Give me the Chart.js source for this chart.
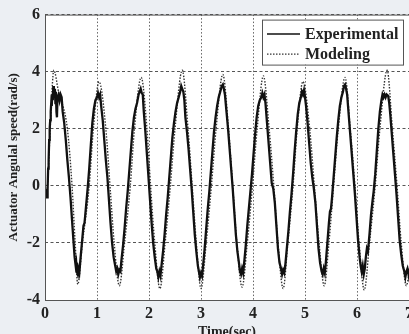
<!DOCTYPE html>
<html>
<head>
<meta charset="utf-8">
<script src="https://cdn.jsdelivr.net/npm/chart.js@4.4.1/dist/chart.umd.min.js"></script>
<style>
  html, body { margin: 0; padding: 0; overflow: hidden; background: #eceff3; }
  #wrap { position: relative; width: 430px; height: 345px; }
</style>
</head>
<body>
<div id="wrap"><canvas id="speedChart"></canvas></div>
<script>
/* =========================================================
   DATA  (time in sec, angular speed in rad/s)
========================================================= */

const xTicks = [0, 1, 2, 3, 4, 5, 6, 7];
const yTicks = [-4, -2, 0, 2, 4, 6];

const seriesLabels = ["Experimental", "Modeling"];

const modeling = [
  [0.04,-0.3],[0.07,0.8],[0.10,2.0],[0.17,4.05],
  [0.26,3.3],[0.43,2.0],[0.52,0],[0.58,-2.0],[0.63,-3.45],
  [0.72,-2.0],[0.85,0],[0.93,2.0],[1.04,3.65],
  [1.17,2.0],[1.25,0],[1.33,-2.0],[1.43,-3.5],
  [1.53,-2.0],[1.64,0],[1.72,2.0],[1.85,3.8],
  [1.96,2.0],[2.03,0],[2.11,-2.0],[2.21,-3.6],
  [2.31,-2.0],[2.41,0],[2.50,2.0],[2.64,4.05],
  [2.75,2.0],[2.83,0],[2.91,-2.0],[3.00,-3.6],
  [3.10,-2.0],[3.20,0],[3.29,2.0],[3.42,3.9],
  [3.53,2.0],[3.61,0],[3.69,-2.0],[3.79,-3.55],
  [3.89,-2.0],[3.99,0],[4.08,2.0],[4.20,3.85],
  [4.31,2.0],[4.40,0],[4.48,-2.0],[4.58,-3.6],
  [4.67,-2.0],[4.77,0],[4.85,2.0],[4.96,3.65],
  [5.09,2.0],[5.18,0],[5.27,-2.0],[5.37,-3.5],
  [5.46,-2.0],[5.55,0],[5.64,2.0],[5.77,3.8],
  [5.87,2.0],[5.96,0],[6.04,-2.0],[6.14,-3.65],
  [6.24,-2.0],[6.35,0],[6.44,2.0],[6.58,4.05],
  [6.68,2.0],[6.77,0],[6.85,-2.0],[6.95,-3.5],[7.00,-3.1]
];

const experimental = [
  [0.03,-0.1],[0.04,-0.4],[0.05,-0.1],[0.06,0.6],[0.07,0.9],[0.08,1.6],[0.09,2.0],
  [0.10,2.3],[0.11,2.6],[0.12,2.9],[0.13,2.8],[0.14,3.2],[0.15,3.0],[0.16,3.5],
  [0.17,3.1],[0.19,3.4],[0.20,2.9],[0.21,3.3],[0.22,2.6],[0.23,2.4],[0.24,3.1],
  [0.26,3.2],[0.28,3.0],[0.30,3.2],[0.32,3.1],[0.34,2.6],[0.37,2.2],[0.40,1.6],
  [0.43,0.9],[0.46,0.3],[0.49,-0.4],[0.52,-1.2],[0.55,-2.0],[0.57,-2.5],[0.59,-2.8],
  [0.60,-2.7],[0.61,-3.0],[0.63,-3.1],[0.64,-2.9],[0.66,-3.05],[0.68,-2.6],[0.70,-2.2],
  [0.72,-1.8],[0.74,-1.4],[0.76,-1.3],[0.77,-1.1],[0.79,-0.7],[0.82,-0.1],[0.85,0.6],
  [0.88,1.4],[0.91,2.2],[0.94,2.7],[0.97,3.0],[1.00,3.1],[1.02,3.25],[1.04,3.1],
  [1.06,3.2],[1.08,2.8],[1.11,2.3],[1.14,1.6],[1.17,0.9],[1.20,0.3],[1.23,-0.5],
  [1.26,-1.3],[1.29,-2.0],[1.32,-2.5],[1.35,-2.8],[1.37,-3.0],[1.39,-2.9],[1.41,-3.1],
  [1.43,-2.95],[1.45,-3.0],[1.47,-2.6],[1.50,-2.1],[1.53,-1.5],[1.56,-0.8],[1.59,-0.2],
  [1.62,0.5],[1.65,1.2],[1.68,1.9],[1.71,2.4],[1.74,2.7],[1.77,2.9],[1.80,3.2],
  [1.82,3.3],[1.84,3.4],[1.86,3.25],[1.88,3.2],[1.90,2.6],[1.93,1.9],[1.96,1.1],
  [1.99,0.3],[2.02,-0.5],[2.05,-1.3],[2.08,-2.0],[2.11,-2.5],[2.14,-2.9],[2.16,-3.0],
  [2.18,-3.2],[2.20,-3.0],[2.22,-3.15],[2.24,-2.8],[2.27,-2.3],[2.30,-1.7],[2.33,-1.0],
  [2.36,-0.4],[2.39,0.3],[2.42,1.0],[2.45,1.7],[2.48,2.2],[2.51,2.6],[2.54,2.9],
  [2.57,3.1],[2.60,3.3],[2.62,3.5],[2.64,3.4],[2.66,3.3],[2.68,3.0],[2.70,2.4],
  [2.73,1.9],[2.76,1.3],[2.79,0.6],[2.82,-0.1],[2.85,-0.9],[2.88,-1.7],[2.91,-2.3],
  [2.94,-2.8],[2.96,-3.0],[2.98,-3.2],[3.00,-3.05],[3.02,-3.15],[3.04,-2.8],[3.07,-2.2],
  [3.10,-1.5],[3.13,-0.8],[3.16,-0.2],[3.19,0.5],[3.22,1.2],[3.25,1.9],[3.28,2.4],
  [3.31,2.8],[3.34,3.1],[3.37,3.3],[3.40,3.5],[3.42,3.55],[3.44,3.4],[3.46,3.2],
  [3.49,2.6],[3.52,2.0],[3.55,1.3],[3.58,0.6],[3.61,-0.1],[3.64,-0.9],[3.67,-1.7],
  [3.70,-2.3],[3.73,-2.7],[3.75,-3.0],[3.77,-3.1],[3.79,-2.9],[3.81,-3.05],[3.83,-2.7],
  [3.86,-2.1],[3.89,-1.4],[3.92,-0.8],[3.95,-0.2],[3.98,0.4],[4.01,1.1],[4.04,1.8],
  [4.07,2.4],[4.10,2.8],[4.13,3.0],[4.16,3.1],[4.18,3.25],[4.20,3.1],[4.22,3.2],
  [4.24,2.9],[4.27,2.2],[4.30,1.5],[4.33,0.8],[4.36,0.1],[4.39,-0.1],[4.42,-0.6],
  [4.45,-1.4],[4.48,-2.2],[4.51,-2.7],[4.54,-2.9],[4.56,-3.1],[4.58,-2.95],[4.60,-3.05],
  [4.62,-2.8],[4.65,-2.2],[4.68,-1.6],[4.71,-0.9],[4.74,-0.3],[4.77,0.4],[4.80,1.2],
  [4.83,1.9],[4.86,2.5],[4.89,2.9],[4.92,3.1],[4.94,3.3],[4.96,3.2],[4.98,3.35],
  [5.00,3.1],[5.02,2.8],[5.05,2.2],[5.08,1.5],[5.11,0.8],[5.14,0.3],[5.17,-0.1],
  [5.20,-0.6],[5.23,-1.4],[5.26,-2.2],[5.29,-2.7],[5.32,-3.0],[5.34,-3.1],[5.36,-2.9],
  [5.38,-3.05],[5.40,-2.7],[5.43,-2.0],[5.46,-1.3],[5.48,-0.9],[5.50,-0.8],[5.52,-0.4],
  [5.55,0.3],[5.58,1.0],[5.61,1.7],[5.64,2.3],[5.67,2.8],[5.70,3.1],[5.73,3.3],
  [5.75,3.5],[5.77,3.55],[5.79,3.4],[5.81,3.2],[5.84,2.5],[5.87,1.8],[5.90,1.1],
  [5.93,0.4],[5.96,-0.3],[5.99,-1.1],[6.02,-1.9],[6.05,-2.5],[6.07,-2.8],[6.09,-3.0],
  [6.11,-2.8],[6.13,-3.1],[6.15,-2.9],[6.17,-2.5],[6.19,-2.2],[6.21,-2.3],[6.24,-1.7],
  [6.27,-1.0],[6.30,-0.5],[6.32,-0.2],[6.35,0.4],[6.38,1.2],[6.41,2.0],[6.44,2.6],
  [6.47,3.0],[6.49,3.2],[6.51,3.1],[6.53,3.2],[6.55,3.1],[6.57,3.2],[6.60,3.15],
  [6.62,2.9],[6.64,2.5],[6.67,1.8],[6.70,1.1],[6.73,0.4],[6.76,-0.3],[6.79,-1.1],
  [6.82,-1.9],[6.85,-2.4],[6.88,-2.8],[6.91,-3.0],[6.93,-3.2],[6.95,-3.0],[6.97,-2.9],
  [6.99,-3.1],[7.00,-2.9]
];

/* =========================================================
   PLUGINS
========================================================= */

const FONT = "'Liberation Serif', 'DejaVu Serif', serif";

// white plot area + full box around it
const plotFrame = {
  id: "plotFrame",
  beforeDraw(chart) {
    const { ctx, chartArea: a } = chart;
    ctx.save();
    ctx.fillStyle = "#ffffff";
    ctx.fillRect(a.left, a.top, a.right - a.left, a.bottom - a.top);
    ctx.restore();
  },
  afterDatasetsDraw(chart) {
    const { ctx, chartArea: a } = chart;
    ctx.save();
    ctx.strokeStyle = "#555";
    ctx.lineWidth = 1;
    ctx.strokeRect(a.left + 0.5, a.top + 0.5, a.right - a.left, a.bottom - a.top);
    ctx.restore();
  }
};

// legend box in the upper right corner of the plot
const insideLegend = {
  id: "insideLegend",
  afterDraw(chart) {
    const { ctx, chartArea: a } = chart;
    const w = 141, h = 45;
    const x = a.right - 147, y = a.top + 5;

    ctx.save();
    ctx.fillStyle = "#ffffff";
    ctx.fillRect(x, y, w, h);
    ctx.strokeStyle = "#555";
    ctx.lineWidth = 1;
    ctx.strokeRect(x + 0.5, y + 0.5, w, h);

    ctx.font = "bold 16px " + FONT;
    ctx.textBaseline = "middle";
    ctx.fillStyle = "#222";

    chart.data.datasets.forEach((ds, i) => {
      const ly = y + 14 + i * 20;
      ctx.beginPath();
      ctx.strokeStyle = ds.borderColor;
      ctx.lineWidth = i === 0 ? 1.5 : 1.3;
      ctx.setLineDash(ds.borderDash || []);
      ctx.moveTo(x + 5, ly + 0.5);
      ctx.lineTo(x + 38, ly + 0.5);
      ctx.stroke();
      ctx.setLineDash([]);
      ctx.fillText(ds.label, x + 43, ly + 1);
    });
    ctx.restore();
  }
};

/* =========================================================
   CHART
========================================================= */

function toPoints(rows) {
  return rows.map(r => ({ x: r[0], y: r[1] }));
}

function initSpeedChart() {
  const canvas = document.getElementById("speedChart");
  if (!canvas) return;

  new Chart(canvas.getContext("2d"), {
    type: "line",
    data: {
      datasets: [{
        label: seriesLabels[0],
        data: toPoints(experimental),
        borderColor: "#111",
        borderWidth: 2.3,
        tension: 0,
        pointRadius: 0,
        fill: false
      }, {
        label: seriesLabels[1],
        data: toPoints(modeling),
        borderColor: "#333",
        borderWidth: 1.4,
        borderDash: [1.5, 1.5],
        cubicInterpolationMode: "monotone",
        pointRadius: 0,
        fill: false
      }]
    },
    options: {
      animation: false,
      responsive: true,
      maintainAspectRatio: false,
      layout: { padding: { top: 13, right: 21, left: 0, bottom: 0 } },
      scales: {
        x: {
          type: "linear",
          min: xTicks[0],
          max: xTicks[xTicks.length - 1],
          afterBuildTicks: s => { s.ticks = xTicks.map(v => ({ value: v })); },
          afterFit: s => { s.height = 45; },
          grid: { color: "#666", lineWidth: 1, drawTicks: false },
          border: { display: false, dash: [1.5, 2] },
          ticks: {
            padding: 4,
            color: "#222",
            font: { family: FONT, size: 16, weight: "bold" }
          },
          title: {
            display: true,
            text: "Time(sec)",
            color: "#222",
            padding: { top: 0, bottom: 4 },
            font: { family: FONT, size: 14, weight: "bold" }
          }
        },
        y: {
          min: yTicks[0],
          max: yTicks[yTicks.length - 1],
          afterBuildTicks: s => { s.ticks = yTicks.map(v => ({ value: v })); },
          afterFit: s => { s.width = 45; },
          grid: { color: "#555", lineWidth: 1, drawTicks: false },
          border: { display: false, dash: [3, 2.5] },
          ticks: {
            padding: 5,
            color: "#222",
            font: { family: FONT, size: 16, weight: "bold" }
          },
          title: {
            display: true,
            text: "Actuator Angulal speed(rad/s)",
            color: "#222",
            padding: { top: 6, bottom: 0 },
            font: { family: FONT, size: 13, weight: "bold" }
          }
        }
      },
      plugins: {
        legend: { display: false },
        tooltip: { enabled: false }
      }
    },
    plugins: [plotFrame, insideLegend]
  });
}

/* =========================================================
   INIT
========================================================= */

initSpeedChart();
</script>
</body>
</html>
